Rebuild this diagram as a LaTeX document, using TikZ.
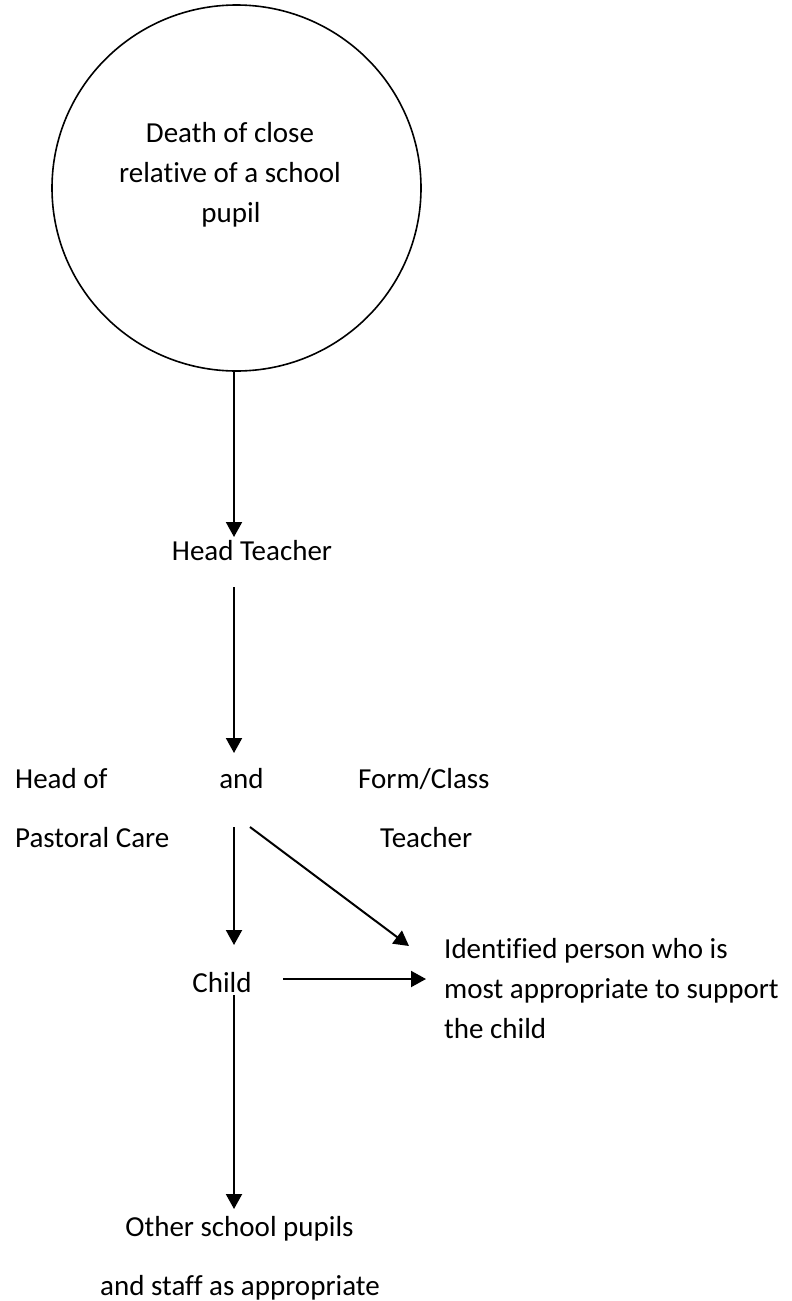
\documentclass[tikz,border=0pt]{standalone}
\usepackage{fontspec}
\setmainfont{Carlito}[Ligatures=CommonOff]
\usetikzlibrary{arrows.meta,shapes.geometric}
\begin{document}
\begin{tikzpicture}[x=1pt,y=-1pt,
  lbl/.style={inner sep=0pt, font=\fontsize{29}{35}\selectfont, anchor=base},
  lblw/.style={lbl, anchor=base west},
  flow/.style={line width=2pt, -{Triangle[length=15pt,width=16pt]}},
  ring/.style={draw, line width=1.6pt, ellipse, minimum width=369pt,
    minimum height=366pt, inner sep=0pt}]
\useasboundingbox (0,0) rectangle (792,1301);

% the event circle and its caption
\node[ring] (event) at (236.5,188) {};
\node[lbl] (ev1) at (230,142) {Death of close};
\node[lbl] (ev2) at (230,182) {relative of a school};
\node[lbl] (ev3) at (231,222) {pupil};

% people in the chain
\node[lbl] (head) at (252,560) {Head Teacher};
\node[lblw] (hop1) at (15,788) {Head of};
\node[lblw] (hop2) at (15,847) {Pastoral Care};
\node[lbl] (and) at (241.5,788) {and};
\node[lblw] (fct1) at (358,788) {Form/Class};
\node[lblw] (fct2) at (380,847) {Teacher};
\node[lbl] (child) at (222,992) {Child};
\node[lblw] (id1) at (444,958) {Identified person who is};
\node[lblw] (id2) at (444,998) {most appropriate to support};
\node[lblw] (id3) at (444,1038) {the child};
\node[lbl] (oth1) at (239.5,1236) {Other school pupils};
\node[lbl] (oth2) at (240,1295) {and staff as appropriate};

% connector ends
\coordinate (eventout) at (234,370);
\coordinate (headin) at (234,537);
\coordinate (headout) at (234,587);
\coordinate (andin) at (234,753);
\coordinate (andout) at (234,827);
\coordinate (diagout) at (250,827);
\coordinate (childin) at (234,945);
\coordinate (idin) at (409,946);
\coordinate (childright) at (283,979);
\coordinate (idleft) at (426,979);
\coordinate (childout) at (234,995);
\coordinate (othin) at (234,1209);

\draw[flow] (eventout) -- (headin);
\draw[flow] (headout) -- (andin);
\draw[flow] (andout) -- (childin);
\draw[flow] (diagout) -- (idin);
\draw[flow] (childright) -- (idleft);
\draw[flow] (childout) -- (othin);
\end{tikzpicture}
\end{document}
